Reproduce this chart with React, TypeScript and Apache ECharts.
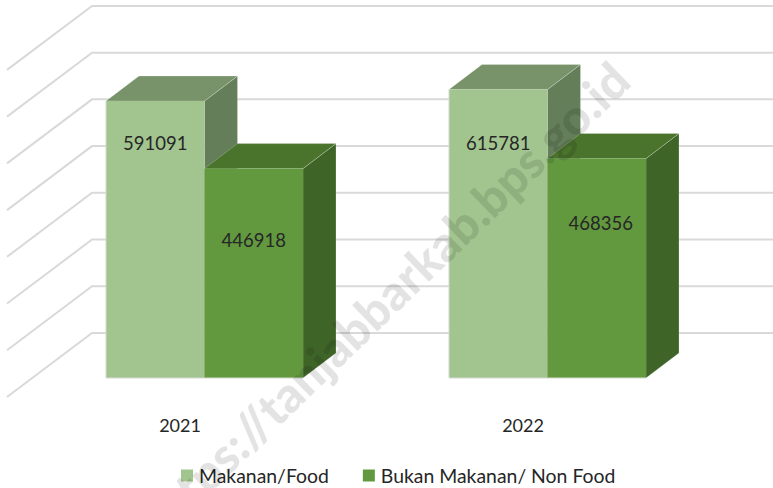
import React, { useEffect, useRef } from "react";
import * as echarts from "echarts";

const categories = ["2021", "2022"];
const foodValues = [591091, 615781];
const nonFoodValues = [446918, 468356];
const yTicks = [0, 100000, 200000, 300000, 400000, 500000, 600000, 700000];
const foodLabelValues = [501000, 501000];
const nonFoodLabelValues = [294000, 331000];
const foodLabelShift = [0, 0];
const nonFoodLabelShift = [0, 4];
const seriesNames = ["Makanan/Food", "Bukan Makanan/ Non Food"];
const watermarkText = "https://tanjabbarkab.bps.go.id";

const FONT = "Lato, 'Open Sans', sans-serif";
const TEXT = "#262626";
const GRID = "#D9D9D9";
const BAR_W = 0.2872; // share of a category band
const DEPTH = [33, -25];
const WALL = [59, -45];
const FLOOR = [-26, 19];
const WALL_SCALE = 0.9972;

const barRender = (
  slot: number,
  face: string,
  top: string,
  side: string,
  labels: number[],
  shifts: number[]
) => (params: any, api: any) => {
  const band = api.size([1, 0])[0];
  const w = band * BAR_W;
  const idx = api.value(0);
  const val = api.value(1);
  const c = api.coord([idx, val]);
  const z = api.coord([idx, 0]);
  const x0 = c[0] + (slot - 1) * w;
  const x1 = x0 + w;
  const [dx, dy] = DEPTH;
  const labelY = api.coord([idx, labels[params.dataIndex]])[1];
  const edge = { stroke: "rgba(255,255,255,0.22)", lineWidth: 1 };
  const baseLine = slot === 0
    ? [[x0, c[1]], [x0, z[1]], [x1, z[1]]]
    : [[x0, z[1]], [x1, z[1]]];
  return {
    type: "group",
    children: [
      {
        type: "polygon",
        shape: { points: [[x1, c[1]], [x1 + dx, c[1] + dy], [x1 + dx, z[1] + dy], [x1, z[1]]] },
        style: { fill: side, ...edge },
      },
      {
        type: "polygon",
        shape: { points: [[x0, c[1]], [x0 + dx, c[1] + dy], [x1 + dx, c[1] + dy], [x1, c[1]]] },
        style: { fill: top, ...edge },
      },
      {
        type: "rect",
        shape: { x: x0, y: c[1], width: w, height: z[1] - c[1] },
        style: { fill: face },
      },
      {
        type: "polyline",
        shape: { points: baseLine },
        style: { stroke: "#D4DAD0", lineWidth: 1, fill: "none" },
      },
      {
        type: "text",
        style: {
          x: (x0 + x1) / 2 + shifts[params.dataIndex],
          y: labelY,
          text: String(val),
          fill: TEXT,
          font: `18.5px ${FONT}`,
          align: "center",
          verticalAlign: "middle",
        },
      },
    ],
  };
};

const wallRender = (_p: any, api: any) => {
  const c = api.coord([0, api.value(0)]);
  const zero = api.coord([0, 0]);
  const y = zero[1] + (c[1] - zero[1]) * WALL_SCALE;
  const sz = api.size([1, 0])[0];
  const left = c[0] - sz / 2;
  const right = left + sz * 2;
  const pts = [
    [left + FLOOR[0], y + FLOOR[1]],
    [left + WALL[0], y + WALL[1]],
    [right + WALL[0], y + WALL[1]],
  ];
  return {
    type: "polyline",
    shape: { points: pts },
    style: { stroke: GRID, lineWidth: 2, fill: "none" },
  };
};

export default function App() {
  const ref = useRef<HTMLDivElement>(null);
  useEffect(() => {
    const chart = echarts.init(ref.current!, null, { renderer: "svg" });
    chart.setOption({
      animation: false,
      backgroundColor: "#ffffff",
      grid: { left: 33, right: 54, top: 50, bottom: 110 },
      xAxis: {
        type: "category",
        data: categories,
        axisLine: { show: false },
        axisTick: { show: false },
        axisLabel: {
          color: TEXT,
          fontFamily: FONT,
          fontSize: 18,
          margin: 38,
          padding: [0, 49, 0, 0],
        },
      },
      yAxis: {
        type: "value",
        min: 0,
        max: 700000,
        interval: 100000,
        axisLabel: { show: false },
        axisLine: { show: false },
        axisTick: { show: false },
        splitLine: { show: false },
      },
      legend: {
        left: 176,
        top: 461,
        itemWidth: 12,
        itemHeight: 12,
        itemGap: 34,
        icon: "rect",
        textStyle: { color: TEXT, fontFamily: FONT, fontSize: 19.4, padding: [0, 0, 0, 1] },
        data: seriesNames,
      },
      series: [
        {
          type: "custom",
          silent: true,
          z: 1,
          clip: false,
          data: yTicks.map((v) => [v]),
          encode: { y: 0 },
          renderItem: wallRender,
        },
        {
          type: "custom",
          name: seriesNames[0],
          z: 2,
          clip: false,
          itemStyle: { color: "#A2C58F" },
          data: foodValues.map((v, i) => [i, v]),
          encode: { x: 0, y: 1 },
          renderItem: barRender(0, "#A2C58F", "#789369", "#647E59", foodLabelValues, foodLabelShift),
        },
        {
          type: "custom",
          name: seriesNames[1],
          z: 3,
          clip: false,
          itemStyle: { color: "#62993F" },
          data: nonFoodValues.map((v, i) => [i, v]),
          encode: { x: 0, y: 1 },
          renderItem: barRender(1, "#62993F", "#4A732C", "#3F6428", nonFoodLabelValues, nonFoodLabelShift),
        },
      ],
      graphic: [
        {
          type: "text",
          z: 100,
          silent: true,
          x: 385,
          y: 298,
          rotation: (44 * Math.PI) / 180,
          style: {
            text: watermarkText,
            font: `900 49px Lato, 'Open Sans', sans-serif`,
            fill: "rgba(0,0,0,0.11)",
            align: "center",
            verticalAlign: "middle",
          },
        },
      ],
    });
    return () => chart.dispose();
  }, []);
  return <div ref={ref} style={{ width: 773, height: 488, position: "absolute", left: 0, top: 0 }} />;
}
